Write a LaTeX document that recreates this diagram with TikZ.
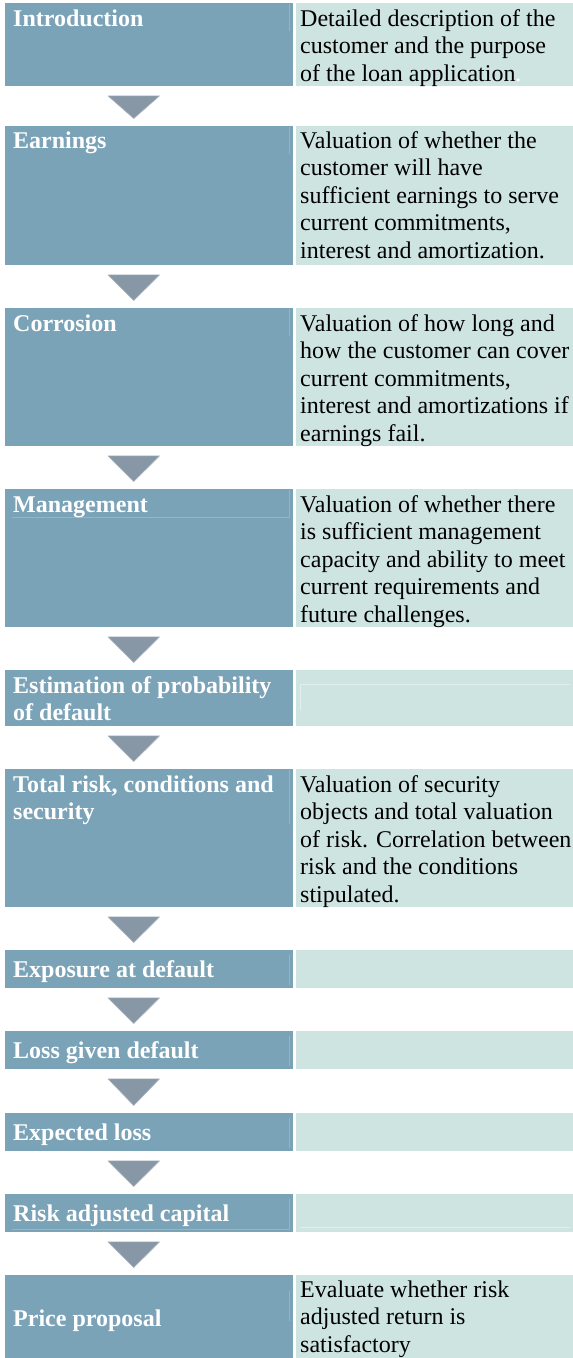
\documentclass[tikz,border=0pt]{standalone}
\usepackage{fontspec}
\setmainfont{Liberation Serif}
\usetikzlibrary{calc}
\definecolor{stepblue}{HTML}{7BA3B8}
\definecolor{notemint}{HTML}{CEE4E0}
\definecolor{chevron}{HTML}{8797A5}
\tikzset{
  lbox/.style={anchor=north west, inner sep=0pt, fill=stepblue, minimum width=288pt},
  rbox/.style={anchor=north west, inner sep=0pt, fill=notemint, minimum width=277pt},
  ltext/.style={anchor=base west, inner sep=0pt, text=white,
    font=\fontsize{24}{27.5}\selectfont\bfseries},
  rtext/.style={anchor=base west, inner sep=0pt, text=black,
    font=\fontsize{24}{27.5}\selectfont},
  chev/.style={fill=chevron, draw=chevron!70!white, line width=0.6pt, line join=round},
  lframe/.style={draw=stepblue!80!white, line width=0.6pt},
  rframe/.style={draw=notemint!60!white, line width=0.6pt}
}
\newcommand\lines[1]{\parbox[t]{290pt}{\raggedright #1}}
\begin{document}
\begin{tikzpicture}[x=1pt, y={(0pt,-1pt)}]
\useasboundingbox (0,0) rectangle (573,1358);
% step boxes (left) and note boxes (right)
\node[lbox, minimum height=83pt]  (l1)  at (5,3) {};
\node[rbox, minimum height=83pt]  (r1)  at (296,3) {};
\node[lbox, minimum height=139pt] (l2)  at (5,126) {};
\node[rbox, minimum height=139pt] (r2)  at (296,126) {};
\node[lbox, minimum height=138pt] (l3)  at (5,308) {};
\node[rbox, minimum height=138pt] (r3)  at (296,308) {};
\node[lbox, minimum height=138pt] (l4)  at (5,489) {};
\node[rbox, minimum height=138pt] (r4)  at (296,489) {};
\node[lbox, minimum height=56pt]  (l5)  at (5,670) {};
\node[rbox, minimum height=56pt]  (r5)  at (296,670) {};
\node[lbox, minimum height=138pt] (l6)  at (5,769) {};
\node[rbox, minimum height=138pt] (r6)  at (296,769) {};
\node[lbox, minimum height=38pt]  (l7)  at (5,950) {};
\node[rbox, minimum height=38pt]  (r7)  at (296,950) {};
\node[lbox, minimum height=38pt]  (l8)  at (5,1031) {};
\node[rbox, minimum height=38pt]  (r8)  at (296,1031) {};
\node[lbox, minimum height=38pt]  (l9)  at (5,1113) {};
\node[rbox, minimum height=38pt]  (r9)  at (296,1113) {};
\node[lbox, minimum height=38pt]  (l10) at (5,1194) {};
\node[rbox, minimum height=38pt]  (r10) at (296,1194) {};
\node[lbox, minimum height=83pt]  (l11) at (5,1275) {};
\node[rbox, minimum height=83pt]  (r11) at (296,1275) {};

% faint inner text-frame edges
\draw[lframe] ($(l1.north east)+(-4,1)$) -- ++(0,27);
\draw[lframe] ($(l2.north east)+(-4,1)$) -- ++(0,27);
\draw[lframe] ($(l3.north east)+(-4,1)$) -- ++(0,27);
\draw[lframe] ($(l4.north east)+(-4,1)$) -- ++(0,27) -- ($(l4.north west)+(7,28)$);
\draw[lframe] ($(l6.north east)+(-4,1)$) -- ++(0,54);
\draw[lframe] ($(l7.north east)+(-4,5)$) -- ++(0,30);
\draw[lframe] ($(l8.north east)+(-4,5)$) -- ++(0,30);
\draw[lframe] ($(l9.north east)+(-4,5)$) -- ++(0,30);
\draw[lframe] ($(l10.north east)+(-4,5)$) -- ++(0,30) -- ($(l10.north west)+(7,35)$);
\draw[lframe] ($(l11.north east)+(-4,16)$) -- ++(0,30);
\draw[rframe] ($(r5.north west)+(4,40)$) -- ++(0,-26) -- ($(r5.north east)+(-3,14)$);
\draw[rframe] ($(r10.north west)+(4,33)$) -- ($(r10.north east)+(-3,33)$);

% step titles
\node[ltext] (t1)  at ($(l1.north west)+(8,23)$)  {Introduction};
\node[ltext] (t2)  at ($(l2.north west)+(8,22)$)  {Earnings};
\node[ltext] (t3)  at ($(l3.north west)+(8,23)$)  {Corrosion};
\node[ltext] (t4)  at ($(l4.north west)+(8,23)$)  {Management};
\node[ltext] (t5)  at ($(l5.north west)+(8,23)$)  {\lines{Estimation of probability\\of default}};
\node[ltext] (t6)  at ($(l6.north west)+(8,23)$)  {\lines{Total risk, conditions and\\security}};
\node[ltext] (t7)  at ($(l7.north west)+(8,27)$)  {Exposure at default};
\node[ltext] (t8)  at ($(l8.north west)+(8,27)$)  {Loss given default};
\node[ltext] (t9)  at ($(l9.north west)+(8,27)$)  {Expected loss};
\node[ltext] (t10) at ($(l10.north west)+(8,27)$) {Risk adjusted capital};
\node[ltext] (t11) at ($(l11.north west)+(8,51)$) {Price proposal};

% descriptions
\node[rtext] (d1) at ($(r1.north west)+(4,23)$) {\lines{Detailed description of the\\customer and the purpose\\of the loan application\textcolor{white}{.}}};
\node[rtext] (d2) at ($(r2.north west)+(4,22)$) {\lines{Valuation of whether the\\customer will have\\sufficient earnings to serve\\current commitments,\\interest and amortization.}};
\node[rtext] (d3) at ($(r3.north west)+(4,23)$) {\lines{Valuation of how long and\\how the customer can cover\\current commitments,\\interest and amortizations if\\earnings fail.}};
\node[rtext] (d4) at ($(r4.north west)+(4,23)$) {\lines{Valuation of whether there\\is sufficient management\\capacity and ability to meet\\current requirements and\\future challenges.}};
\node[rtext] (d6) at ($(r6.north west)+(4,23)$) {\lines{Valuation of security\\objects and total valuation\\of risk. Correlation between\\risk and the conditions\\stipulated.}};
\node[rtext] (d11) at ($(r11.north west)+(4,22)$) {\lines{Evaluate whether risk\\adjusted return is\\satisfactory}};

% chevrons between consecutive steps
\foreach \a/\b in {l1/l2,l2/l3,l3/l4,l4/l5,l5/l6,l6/l7,l7/l8,l8/l9,l9/l10,l10/l11}{
  \filldraw[chev] ($(\a.south west)+(103,9.5)$) -- ($(\a.south west)+(154.5,9.5)$)
     -- ($(\b.north west)+(128.75,-7.5)$) -- cycle;
}
\end{tikzpicture}
\end{document}
